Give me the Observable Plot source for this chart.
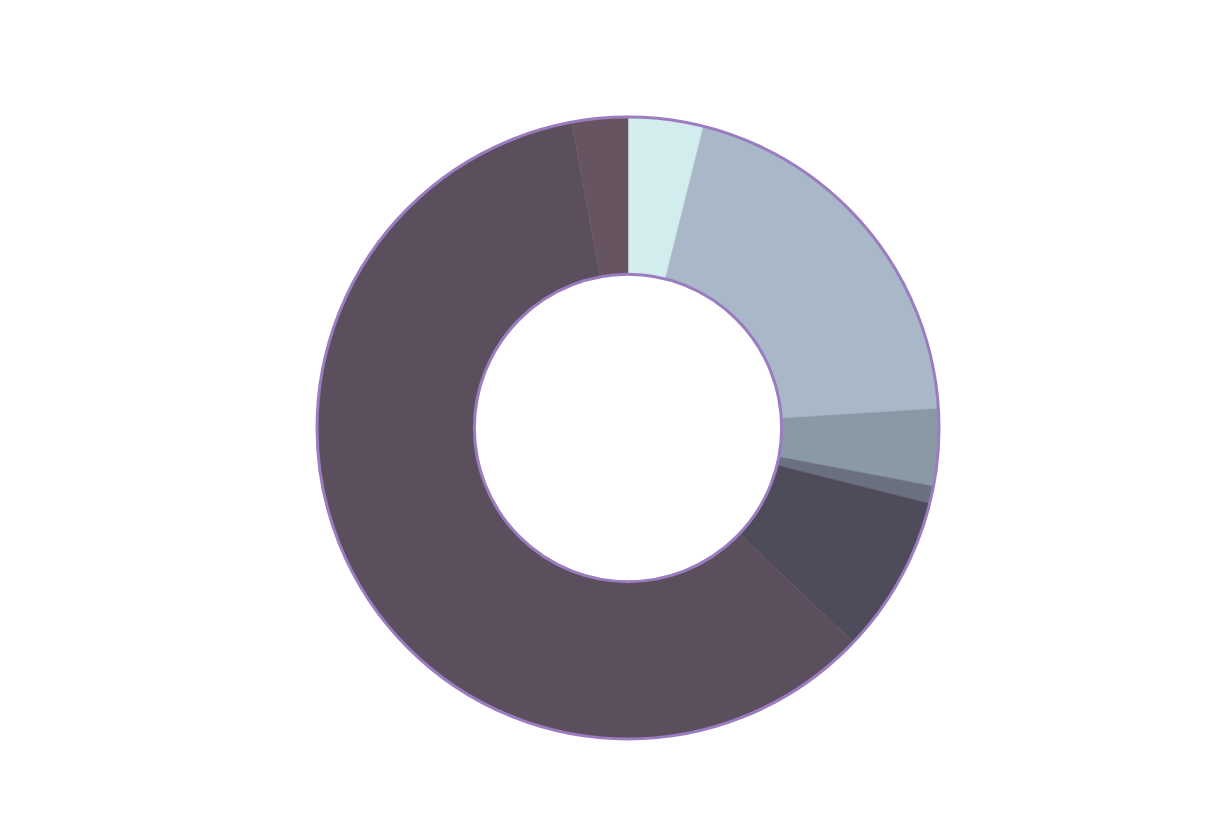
<!DOCTYPE html>
<html>
<head>
<meta charset="utf-8">
<script src="https://cdn.jsdelivr.net/npm/d3@7"></script>
<script src="https://cdn.jsdelivr.net/npm/@observablehq/plot@0.6"></script>
<style>
  html, body { margin: 0; padding: 0; background: #fff; }
</style>
</head>
<body>
<div id="chart"></div>
<script>
const categories = ["A", "B", "C", "D", "E", "F", "G"];
const values = [3.9, 20.1, 4.0, 0.9, 8.2, 60.0, 2.9];
const colors = ["#d3ecee", "#a8b8c9", "#8a99a6", "#6b7081", "#4e4b5b", "#5b4f5e", "#665560"];

const data = categories.map((c, i) => ({category: c, value: values[i]}));
const innerRatio = 0.494;

const pie = d3.pie().sort(null).value(d => d.value);
const arcs = pie(data);

function donutMark(index, scales, channels, dimensions, context) {
  const cx = scales.x(0), cy = scales.y(0);
  const r = scales.x(1) - scales.x(0);
  const arc = d3.arc().innerRadius(r * innerRatio).outerRadius(r);
  const g = d3.create("svg:g").attr("transform", `translate(${cx},${cy})`);
  g.selectAll("path").data(arcs).join("path")
    .attr("d", arc)
    .attr("fill", d => scales.color(d.data.category))
    .attr("stroke", d => scales.color(d.data.category))
    .attr("stroke-width", 0.5);
  for (const rr of [r, r * innerRatio]) {
    g.append("circle").attr("r", rr).attr("fill", "none")
      .attr("stroke", "#9b7cc0").attr("stroke-width", 3);
  }
  return g.node();
}

const chart = Plot.plot({
  width: 1230,
  height: 840,
  marginLeft: 317,
  marginRight: 291,
  marginTop: 117,
  marginBottom: 101,
  x: {domain: [-1, 1], axis: null},
  y: {domain: [-1, 1], axis: null},
  color: {domain: categories, range: colors},
  marks: [
    donutMark
  ]
});
document.getElementById("chart").appendChild(chart);
</script>
</body>
</html>
